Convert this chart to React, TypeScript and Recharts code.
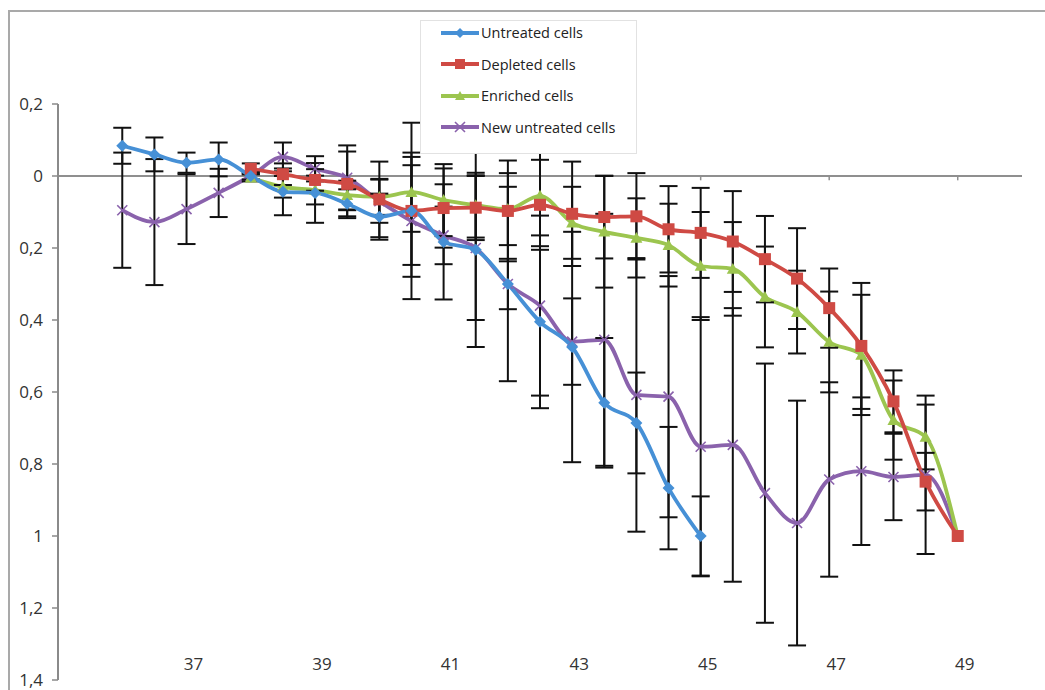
import { LineChart, Line, XAxis, YAxis, ErrorBar, ReferenceLine } from "recharts";

const FONT = "'Open Sans', 'Noto Sans', sans-serif";
const BLUE = "#4690d6";
const RED = "#cf4a44";
const GREEN = "#9cc54f";
const PURPLE = "#8a62ac";

const xFrom36 = [36, 36.5, 37, 37.5, 38, 38.5, 39, 39.5, 40, 40.5, 41, 41.5, 42, 42.5, 43, 43.5, 44, 44.5, 45, 45.5, 46, 46.5, 47, 47.5, 48, 48.5, 49];
const xFrom38 = [38, 38.5, 39, 39.5, 40, 40.5, 41, 41.5, 42, 42.5, 43, 43.5, 44, 44.5, 45, 45.5, 46, 46.5, 47, 47.5, 48, 48.5, 49];
const xTo45 = [36, 36.5, 37, 37.5, 38, 38.5, 39, 39.5, 40, 40.5, 41, 41.5, 42, 42.5, 43, 43.5, 44, 44.5, 45];

const untreated = [0.084, 0.06, 0.037, 0.046, 0.0, -0.044, -0.047, -0.077, -0.113, -0.097, -0.183, -0.205, -0.3, -0.405, -0.475, -0.63, -0.686, -0.867, -1.0];
const untreatedErr = [0.05, 0.047, 0.028, 0.047, 0.01, 0.065, 0.083, 0.04, 0.064, 0.245, 0.16, 0.27, 0.27, 0.24, 0.32, 0.18, 0.14, 0.17, 0.11];

const depleted = [0.02, 0.005, -0.011, -0.022, -0.065, -0.097, -0.089, -0.088, -0.097, -0.08, -0.105, -0.114, -0.112, -0.148, -0.158, -0.182, -0.231, -0.285, -0.367, -0.472, -0.626, -0.849, -1.0];
const depletedErr = [0.015, 0.03, 0.03, 0.09, 0.105, 0.15, 0.11, 0.09, 0.14, 0.125, 0.145, 0.115, 0.12, 0.12, 0.125, 0.14, 0.12, 0.14, 0.11, 0.175, 0.086, 0.08, 0];

const enriched = [-0.005, -0.03, -0.039, -0.053, -0.058, -0.045, -0.067, -0.081, -0.092, -0.055, -0.13, -0.155, -0.172, -0.192, -0.25, -0.258, -0.336, -0.378, -0.461, -0.497, -0.678, -0.725, -1.0];
const enrichedErr = [0.01, 0.03, 0.04, 0.04, 0.05, 0.11, 0.1, 0.09, 0.1, 0.14, 0.1, 0.155, 0.11, 0.115, 0.15, 0.13, 0.14, 0.115, 0.14, 0.167, 0.11, 0.09, 0];

const newUntreated = [-0.095, -0.128, -0.092, -0.047, 0.0, 0.053, 0.02, -0.005, -0.07, -0.125, -0.165, -0.2, -0.3, -0.36, -0.46, -0.455, -0.608, -0.613, -0.752, -0.747, -0.881, -0.964, -0.843, -0.82, -0.836, -0.83, -1.0];
const newUntreatedErr = [0.16, 0.175, 0.097, 0.067, 0.01, 0.04, 0.035, 0.09, 0.06, 0.155, 0.08, 0.2, 0.07, 0.25, 0.12, 0.35, 0.38, 0.335, 0.36, 0.38, 0.36, 0.34, 0.27, 0.205, 0.12, 0.22, 0];

const xTicks = [37, 39, 41, 43, 45, 47, 49];
const yTicks = [0.2, 0, -0.2, -0.4, -0.6, -0.8, -1, -1.2, -1.4];

const rows = (xs: number[], ys: number[], es: number[]) =>
  xs.map((x, i) => ({ x, y: ys[i], err: es[i] }));

// marker shapes
const diamond = (cx: number, cy: number, c: string, s = 6) => (
  <path d={`M${cx},${cy - s}L${cx + s},${cy}L${cx},${cy + s}L${cx - s},${cy}Z`} fill={c} />
);
const square = (cx: number, cy: number, c: string, s = 6) => (
  <rect x={cx - s} y={cy - s} width={s * 2} height={s * 2} fill={c} />
);
const triangle = (cx: number, cy: number, c: string, s = 6) => (
  <path d={`M${cx},${cy - s}L${cx + s},${cy + s * 0.8}L${cx - s},${cy + s * 0.8}Z`} fill={c} />
);
const cross = (cx: number, cy: number, c: string, s = 5) => (
  <path d={`M${cx - s},${cy - s}L${cx + s},${cy + s}M${cx - s},${cy + s}L${cx + s},${cy - s}`} stroke={c} strokeWidth={1.6} fill="none" />
);

const dotOf = (shape: typeof diamond, c: string) => (p: any) => {
  if (p.cx == null || p.cy == null) return <g key={`n-${p.index}`} />;
  return <g key={`d-${p.index}`}>{shape(p.cx, p.cy, c)}</g>;
};

const series = [
  { name: "Untreated cells", color: BLUE, shape: diamond, data: rows(xTo45, untreated, untreatedErr) },
  { name: "Depleted cells", color: RED, shape: square, data: rows(xFrom38, depleted, depletedErr) },
  { name: "Enriched cells", color: GREEN, shape: triangle, data: rows(xFrom38, enriched, enrichedErr) },
  { name: "New untreated cells", color: PURPLE, shape: cross, data: rows(xFrom36, newUntreated, newUntreatedErr) },
];

const fmtY = (v: number) => (v === 0 ? "0" : String(Math.abs(Math.round(v * 10) / 10)).replace(".", ","));

const XTick = ({ x, y, payload }: any) => (
  <text x={x + 7} y={y - 17} textAnchor="middle" dominantBaseline="central" fontSize={17} fill="#333" fontFamily={FONT}>
    {payload.value}
  </text>
);

function ChartLegend() {
  return (
    <div
      style={{
        position: "absolute",
        left: 420,
        top: 20,
        width: 217,
        height: 134,
        background: "#fff",
        border: "1px solid #e2e2e2",
        boxSizing: "border-box",
        fontFamily: FONT,
        fontSize: 14.5,
        color: "#222",
      }}
    >
      <div style={{ marginTop: -4 }}>
        {series.map((s) => (
          <div key={s.name} style={{ display: "flex", alignItems: "center", height: 31.5, paddingLeft: 19 }}>
            <svg width={40} height={14} style={{ marginRight: 1 }}>
              <line x1={1} y1={7} x2={39} y2={7} stroke={s.color} strokeWidth={4} />
              {s.shape(20, 7, s.color, 5)}
            </svg>
            <span>{s.name}</span>
          </div>
        ))}
      </div>
    </div>
  );
}

export default function App() {
  // later series are drawn underneath, as in the original
  const drawOrder = [...series].reverse();
  return (
    <div style={{ position: "absolute", left: 0, top: 0, width: 1045, height: 690, background: "#fff", overflow: "hidden" }}>
      <div style={{ position: "absolute", left: 8, top: 10, width: 1100, height: 700, borderLeft: "2px solid #a9a9a9", borderTop: "2px solid #a9a9a9" }} />
      <div style={{ position: "absolute", left: 0, top: 0 }}>
        <LineChart width={1045} height={690} margin={{ top: 104, right: 23, bottom: 0, left: 0 }}>
          <XAxis
            type="number"
            dataKey="x"
            domain={[35, 50]}
            ticks={xTicks}
            allowDataOverflow
            height={10}
            axisLine={false}
            tickLine={false}
            tickSize={0}
            tickMargin={0}
            tick={<XTick />}
          />
          <YAxis
            type="number"
            domain={[-1.4, 0.2]}
            ticks={yTicks}
            width={58}
            tickFormatter={fmtY}
            tickSize={6}
            tickMargin={9}
            axisLine={{ stroke: "#8a8a8a", strokeWidth: 2 }}
            tickLine={{ stroke: "#8a8a8a", strokeWidth: 1.5 }}
            tick={{ fontSize: 17, fill: "#333", fontFamily: FONT }}
          />
          <ReferenceLine y={0} stroke="#8f8f8f" strokeWidth={2} />
          {xTicks.map((t) => (
            <ReferenceLine key={t} segment={[{ x: t, y: 0 }, { x: t, y: -0.012 }]} stroke="#8f8f8f" strokeWidth={1.5} />
          ))}
          {drawOrder.map((s) => (
            <Line
              key={s.name}
              data={s.data}
              dataKey="y"
              name={s.name}
              type="monotone"
              stroke={s.color}
              strokeWidth={3.8}
              dot={dotOf(s.shape, s.color)}
              activeDot={false}
              isAnimationActive={false}
            >
              <ErrorBar dataKey="err" direction="y" width={9} stroke="#111" strokeWidth={2} />
            </Line>
          ))}
        </LineChart>
      </div>
      <ChartLegend />
    </div>
  );
}
